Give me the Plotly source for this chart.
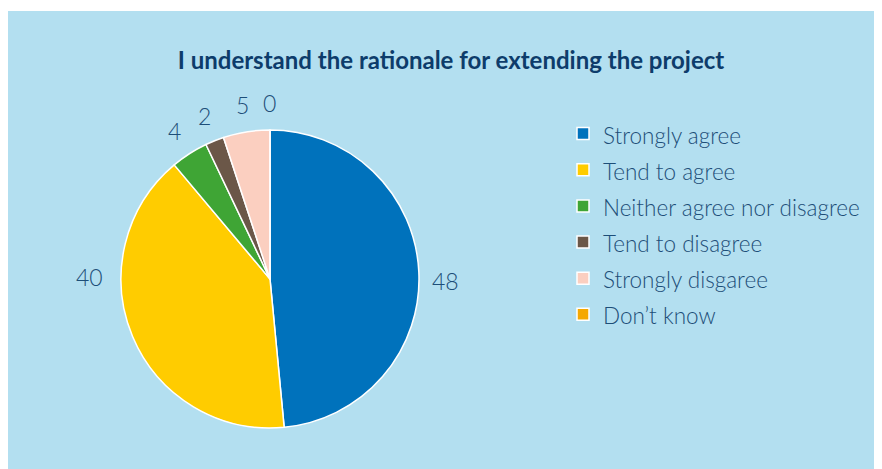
import math
import plotly.graph_objects as go

categories = ["Strongly agree", "Tend to agree", "Neither agree nor disagree",
              "Tend to disagree", "Strongly disgaree", "Don\u2019t know"]
values = [48, 40, 4, 2, 5, 0]
colors = ["#0072bc", "#ffcc00", "#3fa535", "#6b5748", "#fbcfc0", "#f5a800"]

W, H = 882, 469
BG = "#b3dff0"
TEXT = "#1d4e78"

# pie geometry (figure pixels)
CX, CY, R = 262, 271, 149
LABEL_R = 176
# the two large slices have their labels set level with the pie centre (degrees clockwise from top, radius)
label_override = {0: (90.5, 176), 1: (270.5, 181)}

legend_labels = [f"<span style='font-size:22.5px'>{c}</span>" for c in categories]

fig = go.Figure()
fig.add_trace(go.Pie(
    labels=legend_labels, values=values, sort=False, direction="clockwise",
    rotation=0,
    marker=dict(colors=colors, line=dict(color="white", width=1.5)),
    textinfo="none",
    domain=dict(x=[(CX - R) / W, (CX + R) / W], y=[(H - CY - R) / H, (H - CY + R) / H]),
    showlegend=True, hoverinfo="label+value",
))

# value labels placed radially at each slice's mid-angle
total = sum(values)
cum = 0
for i, v in enumerate(values):
    mid = (cum + v / 2) / total * 2 * math.pi
    cum += v
    rad = LABEL_R
    if i in label_override:
        mid = math.radians(label_override[i][0])
        rad = label_override[i][1]
    px = CX + rad * math.sin(mid)
    py = CY - rad * math.cos(mid)
    fig.add_annotation(x=px / W, y=1 - py / H, xref="paper", yref="paper",
                       text=str(v), showarrow=False, xanchor="center", yanchor="middle",
                       font=dict(family="Lato", size=23, color=TEXT, weight=300))

# thin white strip at the very top
fig.add_shape(type="rect", xref="paper", yref="paper", x0=0, x1=1, y0=1 - 3 / H, y1=1,
              fillcolor="white", line=dict(width=0), layer="below")

fig.update_layout(
    width=W, height=H,
    margin=dict(l=0, r=0, t=0, b=0),
    paper_bgcolor=BG, plot_bgcolor=BG,
    title=dict(text="<b>I understand the rationale for extending the project</b>",
               x=443 / W, xanchor="center", y=1 - 53 / H, yanchor="middle",
               font=dict(family="Lato", size=24, color="#0d3c6b")),
    legend=dict(x=555 / W, xanchor="left", y=1 - 102.5 / H, yanchor="top",
                font=dict(family="Lato", size=25.5, color=TEXT, weight=300),
                bgcolor="rgba(0,0,0,0)", traceorder="normal"),
)

fig.write_html("out.html")
